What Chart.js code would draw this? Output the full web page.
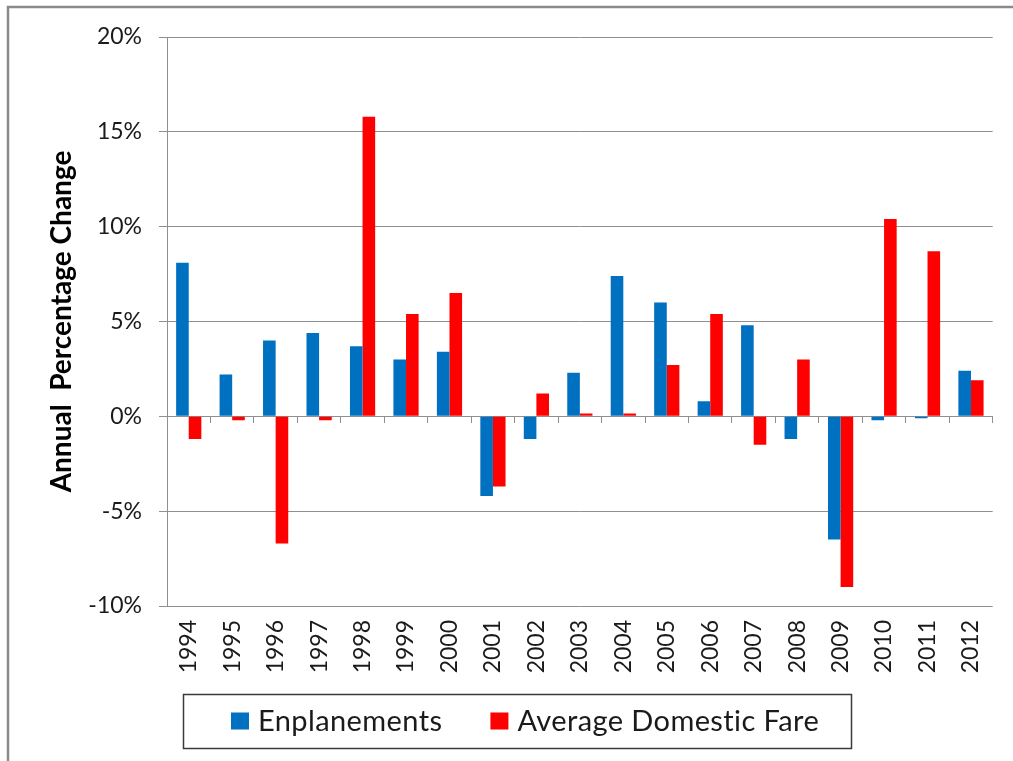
<!DOCTYPE html>
<html>
<head>
<meta charset="utf-8">
<script src="https://cdn.jsdelivr.net/npm/chart.js"></script>
<style>
  html, body { margin: 0; padding: 0; background: #fff; overflow: hidden; }
  #wrap { position: relative; width: 1013px; height: 761px; }
</style>
</head>
<body>
<div id="wrap"><canvas id="chart"></canvas></div>
<script>
const years = ['1994','1995','1996','1997','1998','1999','2000','2001','2002','2003',
               '2004','2005','2006','2007','2008','2009','2010','2011','2012'];
const enplanements = [8.1, 2.2, 4.0, 4.4, 3.7, 3.0, 3.4, -4.2, -1.2, 2.3,
                      7.4, 6.0, 0.8, 4.8, -1.2, -6.5, -0.2, -0.1, 2.4];
const avgFare = [-1.2, -0.2, -6.7, -0.2, 15.8, 5.4, 6.5, -3.7, 1.2, 0.15,
                 0.15, 2.7, 5.4, -1.5, 3.0, -9.0, 10.4, 8.7, 1.9];
const seriesNames = ['Enplanements', 'Average Domestic Fare'];
const yMin = -10, yMax = 20, yStep = 5;
const axisTitle = 'Annual  Percentage Change';

const gridGrey = '#8f8f8f';
const textColor = '#1a1a1a';

// grey frame round the whole chart (top and left edge visible)
const framePlugin = {
  id: 'frame',
  beforeDraw(chart) {
    const ctx = chart.ctx;
    ctx.save();
    ctx.fillStyle = '#fff';
    ctx.fillRect(0, 0, chart.width, chart.height);
    ctx.strokeStyle = '#8a8a8a';
    ctx.lineWidth = 2.5;
    ctx.beginPath();
    ctx.moveTo(8, chart.height);
    ctx.lineTo(8, 7);
    ctx.lineTo(chart.width, 7);
    ctx.stroke();
    ctx.restore();
  }
};

// boxed legend like the excel one
const boxLegend = {
  id: 'boxLegend',
  afterDraw(chart) {
    const ctx = chart.ctx;
    ctx.save();
    ctx.strokeStyle = '#3a3a3a';
    ctx.lineWidth = 1.5;
    ctx.strokeRect(183.5, 694.5, 668, 54);
    ctx.font = '29px Lato';
    ctx.letterSpacing = '0.4px';
    ctx.textBaseline = 'middle';
    let x = 231;
    const cy = 721;
    chart.data.datasets.forEach(ds => {
      ctx.fillStyle = ds.backgroundColor;
      ctx.fillRect(x, cy - 8.5, 18, 17);
      ctx.fillStyle = textColor;
      ctx.fillText(ds.label, x + 27, cy + 1);
      x += 27 + ctx.measureText(ds.label).width + 48;
    });
    ctx.restore();
  }
};

new Chart(document.getElementById('chart'), {
  type: 'bar',
  data: {
    labels: years,
    datasets: [
      {
        label: seriesNames[0],
        data: enplanements,
        backgroundColor: '#0070C0',
        borderWidth: 0,
        categoryPercentage: 0.58,
        barPercentage: 1.0
      },
      {
        label: seriesNames[1],
        data: avgFare,
        backgroundColor: '#FF0000',
        borderWidth: 0,
        categoryPercentage: 0.58,
        barPercentage: 1.0
      }
    ]
  },
  options: {
    responsive: true,
    maintainAspectRatio: false,
    animation: false,
    layout: { padding: { left: 0, top: 37, right: 16, bottom: 0 } },
    plugins: {
      legend: { display: false },
      tooltip: { enabled: false }
    },
    scales: {
      x: {
        type: 'category',
        position: 'bottom',
        offset: true,
        grid: { display: false, drawTicks: false },
        border: { display: false },
        ticks: {
          minRotation: 90,
          maxRotation: 90,
          padding: 14,
          color: textColor,
          font: { family: 'Lato', size: 23 }
        },
        afterFit(scale) { scale.height = 155; }
      },
      // category axis sitting on the zero line, only tick marks
      x2: {
        type: 'category',
        axis: 'x',
        position: { y: 0 },
        offset: true,
        grid: {
          offset: true,
          drawOnChartArea: false,
          drawTicks: true,
          tickLength: 6,
          color: gridGrey
        },
        border: { display: true, color: gridGrey, width: 1 },
        ticks: { display: false }
      },
      y: {
        min: yMin,
        max: yMax,
        ticks: {
          stepSize: yStep,
          padding: 17,
          color: textColor,
          font: { family: 'Lato', size: 23 },
          callback: v => v + '%'
        },
        grid: { color: gridGrey, tickLength: 8 },
        border: { display: true, color: gridGrey },
        title: {
          display: true,
          text: axisTitle,
          color: '#000',
          font: { family: 'Lato', size: 28, weight: 'bold' },
          padding: { top: 45, bottom: 0 }
        },
        afterFit(scale) { scale.width = 167; }
      }
    }
  },
  plugins: [framePlugin, boxLegend]
});
</script>
</body>
</html>
